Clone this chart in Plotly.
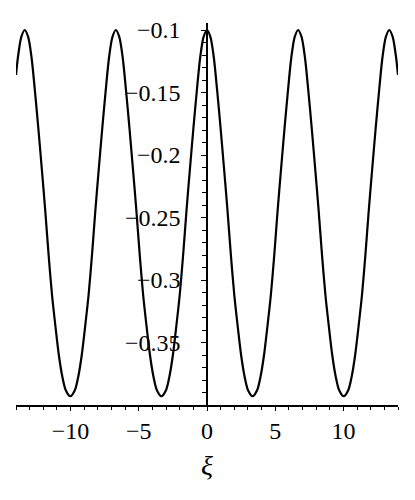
import plotly.graph_objects as go

xi = [-14.0, -13.86, -13.61, -13.36, -13.11, -12.86, -12.61, -12.36, -12.11, -11.86,
      -11.61, -11.36, -11.11, -10.86, -10.61, -10.36, -10.02, -9.68, -9.43, -9.18,
      -8.93, -8.68, -8.43, -8.18, -7.93, -7.68, -7.43, -7.18, -6.93, -6.68,
      -6.43, -6.18, -5.93, -5.68, -5.43, -5.18, -4.93, -4.68, -4.43, -4.18,
      -3.93, -3.68, -3.34, -3.0, -2.75, -2.5, -2.25, -2.0, -1.75, -1.5,
      -1.25, -1.0, -0.75, -0.5, -0.25, 0.0, 0.25, 0.5, 0.75, 1.0,
      1.25, 1.5, 1.75, 2.0, 2.25, 2.5, 2.75, 3.0, 3.34, 3.68,
      3.93, 4.18, 4.43, 4.68, 4.93, 5.18, 5.43, 5.68, 5.93, 6.18,
      6.43, 6.68, 6.93, 7.18, 7.43, 7.68, 7.93, 8.18, 8.43, 8.68,
      8.93, 9.18, 9.43, 9.68, 10.02, 10.36, 10.61, 10.86, 11.11, 11.36,
      11.61, 11.86, 12.11, 12.36, 12.61, 12.86, 13.11, 13.36, 13.61, 13.86, 14.0]

value = [-0.136, -0.122, -0.1055, -0.100, -0.1055, -0.122, -0.149, -0.179, -0.211, -0.244,
         -0.280, -0.312, -0.337, -0.360, -0.377, -0.388, -0.393, -0.388, -0.377, -0.360,
         -0.337, -0.312, -0.280, -0.244, -0.211, -0.179, -0.149, -0.122, -0.1055, -0.100,
         -0.1055, -0.122, -0.149, -0.179, -0.211, -0.244, -0.280, -0.312, -0.337, -0.360,
         -0.377, -0.388, -0.393, -0.388, -0.377, -0.360, -0.337, -0.312, -0.280, -0.244,
         -0.211, -0.179, -0.149, -0.122, -0.1055, -0.100, -0.1055, -0.122, -0.149, -0.179,
         -0.211, -0.244, -0.280, -0.312, -0.337, -0.360, -0.377, -0.388, -0.393, -0.388,
         -0.377, -0.360, -0.337, -0.312, -0.280, -0.244, -0.211, -0.179, -0.149, -0.122,
         -0.1055, -0.100, -0.1055, -0.122, -0.149, -0.179, -0.211, -0.244, -0.280, -0.312,
         -0.337, -0.360, -0.377, -0.388, -0.393, -0.388, -0.377, -0.360, -0.337, -0.312,
         -0.280, -0.244, -0.211, -0.179, -0.149, -0.122, -0.1055, -0.100, -0.1055, -0.122, -0.136]

x_tickvals = [-10, -5, 0, 5, 10]
x_ticktext = ["\u221210", "\u22125", "0", "5", "10"]
y_tickvals = [-0.35, -0.3, -0.25, -0.2, -0.15, -0.1]
y_ticktext = ["\u22120.35", "\u22120.3", "\u22120.25", "\u22120.2", "\u22120.15", "\u22120.1"]

font_family = "Liberation Serif"

fig = go.Figure()
fig.add_trace(go.Scatter(
    x=xi, y=value, mode="lines",
    line=dict(color="black", width=2.2, shape="spline", smoothing=0.8),
    showlegend=False, hoverinfo="skip",
))

fig.update_layout(
    width=407, height=492,
    margin=dict(l=8, r=17, t=15, b=95),
    paper_bgcolor="white", plot_bgcolor="white",
    font=dict(family=font_family, size=24, color="black"),
    xaxis=dict(
        range=[-14, 14],
        showgrid=False, zeroline=False,
        showline=True, linecolor="black", linewidth=1.5,
        ticks="outside", ticklen=4, tickwidth=1.2, tickcolor="black",
        tickvals=x_tickvals, ticktext=x_ticktext,
        tickfont=dict(family=font_family, size=24),
        ticklabelstandoff=-1,
        minor=dict(ticks="outside", ticklen=3, tickwidth=1, tickcolor="black", tick0=0, dtick=1),
        title=dict(text="<i>\u03be</i>", font=dict(family=font_family, size=28), standoff=13),
    ),
    yaxis=dict(
        range=[-0.4, -0.0944],
        anchor="free", position=0.5,
        showgrid=False, zeroline=False,
        showline=True, linecolor="black", linewidth=1.5,
        ticks="outside", ticklen=5, tickwidth=1.2, tickcolor="black",
        tickvals=y_tickvals, ticktext=y_ticktext,
        tickfont=dict(family=font_family, size=24),
        ticklabelstandoff=16,
        minor=dict(ticks="outside", ticklen=4, tickwidth=1, tickcolor="black", tick0=0, dtick=0.01),
    ),
)

fig.write_html("out.html")
